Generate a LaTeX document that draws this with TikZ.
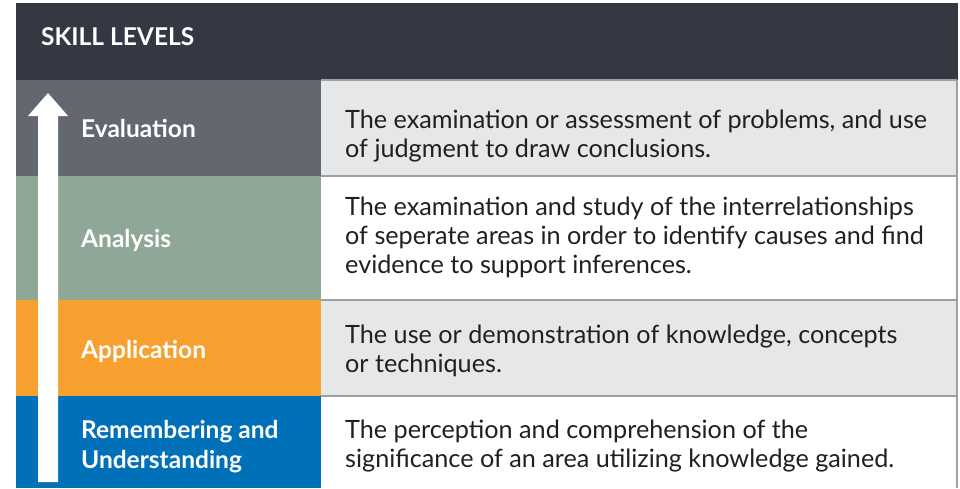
\documentclass[tikz,border=0pt]{standalone}
\usepackage{fontspec}
\setmainfont{Lato}
\definecolor{hdr}{HTML}{353743}
\definecolor{evalc}{HTML}{626770}
\definecolor{anac}{HTML}{8FA797}
\definecolor{appc}{HTML}{F7A02F}
\definecolor{remc}{HTML}{0070B9}
\definecolor{graycell}{HTML}{E6E7E8}
\definecolor{rule}{HTML}{A0A0A0}
\definecolor{bodytxt}{HTML}{231F20}
\tikzset{
  cell/.style={draw=none, inner sep=0pt, outer sep=0pt, anchor=north west, rectangle},
  lbl/.style={anchor=base west, inner sep=0pt, text=white, font=\fontsize{24.5}{30}\selectfont\bfseries, align=left},
  desc/.style={anchor=base west, inner sep=0pt, text=bodytxt, font=\fontsize{25.2}{29}\selectfont, align=left},
  ruleline/.style={draw=rule, line width=1.2pt}
}
\begin{document}
\begin{tikzpicture}[x=1pt,y=-1pt]
\useasboundingbox (0,0) rectangle (960,488);
\fill[white] (0,0) rectangle (960,488);
% header
\node[cell, fill=hdr, minimum width=942pt, minimum height=77pt] (head) at (16,3) {};
\node[anchor=base west, inner sep=0pt, text=white, font=\fontsize{24.5}{30}\selectfont\bfseries] (headtxt) at (41,45) {SKILL LEVELS};
% left column
\node[cell, fill=evalc, minimum width=305pt, minimum height=96pt] (evalL) at (16,80) {};
\node[cell, fill=anac, minimum width=305pt, minimum height=124pt] (anaL) at (16,176) {};
\node[cell, fill=appc, minimum width=305pt, minimum height=96pt] (appL) at (16,300) {};
\node[cell, fill=remc, minimum width=305pt, minimum height=92pt] (remL) at (16,396) {};
% right column
\node[cell, fill=graycell, minimum width=636pt, minimum height=96pt] (evalR) at (321,80) {};
\node[cell, fill=white, minimum width=636pt, minimum height=124pt] (anaR) at (321,176) {};
\node[cell, fill=graycell, minimum width=636pt, minimum height=96pt] (appR) at (321,300) {};
\node[cell, fill=white, minimum width=636pt, minimum height=92pt] (remR) at (321,396) {};
% rules
\draw[ruleline] (evalR.north west) -- (evalR.north east);
\draw[ruleline] (evalR.south west) -- (evalR.south east);
\draw[ruleline] (appR.north west) -- (appR.north east);
\draw[ruleline] (appR.south west) -- (appR.south east);
\draw[ruleline] (evalR.north east) -- (remR.south east);
% arrow
\fill[white] (38,482) -- (38,116) -- (28,116) -- (48,93) -- (68,116) -- (58,116) -- (58,482) -- cycle;
% labels (base = last line baseline)
\node[lbl] (evalT) at (81,137) {Evaluation};
\node[lbl] (anaT) at (81,247) {Analysis};
\node[lbl] (appT) at (81,358) {Application};
\node[lbl] (remT) at (81,468) {Remembering and\\Understanding};
% descriptions
\node[desc] (evalD) at (345,157) {The examination or assessment of problems, and use\\of judgment to draw conclusions.};
\node[desc] (anaD) at (345,273) {The examination and study of the interrelationships\\of seperate areas in order to identify causes and find\\evidence to support inferences.};
\node[desc] (appD) at (345,372) {The use or demonstration of knowledge, concepts\\or techniques.};
\node[desc] (remD) at (345,467) {The perception and comprehension of the\\significance of an area utilizing knowledge gained.};
\end{tikzpicture}
\end{document}
